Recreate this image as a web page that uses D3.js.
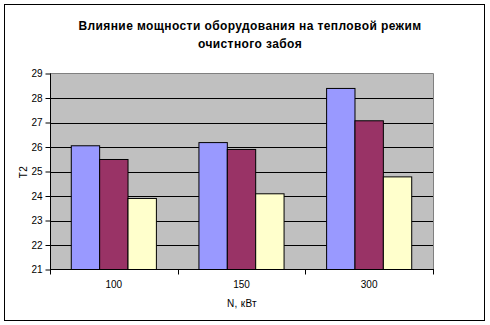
<!DOCTYPE html>
<html>
<head>
<meta charset="utf-8">
<script src="https://cdn.jsdelivr.net/npm/d3@7"></script>
<style>
body { margin: 0; background: #fff; }
svg text { font-family: "Liberation Sans", Arial, sans-serif; fill: #000; }
</style>
</head>
<body>
<div id="chart"></div>
<script>
var categories = ["100", "150", "300"];
var series = ["s1", "s2", "s3"];
var values = [
    [26.05, 25.49, 23.9],
    [26.18, 25.9, 24.09],
    [28.39, 27.07, 24.78]
];
var yTicks = [21, 22, 23, 24, 25, 26, 27, 28, 29];
var colors = ["#9999FF", "#993366", "#FFFFCC"];
var titleLines = ["Влияние мощности оборудования на тепловой режим", "очистного забоя"];

var width = 490, height = 325;
var plot = {left: 50, right: 433, top: 73.5, bottom: 269.5};

var svg = d3.select("#chart").append("svg")
    .attr("width", width)
    .attr("height", height);

// outer border
svg.append("rect")
    .attr("x", 4.5).attr("y", 4.5)
    .attr("width", 480).attr("height", 316)
    .attr("fill", "#fff")
    .attr("stroke", "#000");

var x0 = d3.scaleBand()
    .domain(categories)
    .range([plot.left, plot.right]);

var bw = x0.bandwidth() / 4.5;
var x1 = d3.scaleBand()
    .domain(series)
    .range([0, bw * 3]);

var y = d3.scaleLinear()
    .domain([21, 29])
    .range([plot.bottom, plot.top]);

// plot background
svg.append("rect")
    .attr("x", plot.left).attr("y", plot.top)
    .attr("width", plot.right - plot.left)
    .attr("height", plot.bottom - plot.top)
    .attr("fill", "#C0C0C0");

// border on top/right
svg.append("path")
    .attr("d", "M" + plot.left + "," + (plot.top) + "H" + (plot.right + 0.5) + "V" + plot.bottom)
    .attr("fill", "none")
    .attr("stroke", "#808080");

// gridlines
svg.append("g").selectAll("line")
    .data(yTicks.slice(1, -1))
    .enter().append("line")
    .attr("x1", plot.left).attr("x2", plot.right)
    .attr("y1", function(d) { return Math.round(y(d)) + 0.5; })
    .attr("y2", function(d) { return Math.round(y(d)) + 0.5; })
    .attr("stroke", "#000");

// bars
var groups = svg.append("g").selectAll("g")
    .data(values)
    .enter().append("g")
    .attr("transform", function(d, i) { return "translate(" + (x0(categories[i]) + bw * 0.75) + ",0)"; });

groups.selectAll("rect")
    .data(function(d) { return d; })
    .enter().append("rect")
    .attr("x", function(d, i) { return x1(series[i]); })
    .attr("y", function(d) { return y(d); })
    .attr("width", x1.bandwidth())
    .attr("height", function(d) { return plot.bottom - y(d); })
    .attr("fill", function(d, i) { return colors[i]; })
    .attr("stroke", "#000")
    .attr("stroke-width", 1);

// y axis
var yAxis = d3.axisLeft(y)
    .tickValues(yTicks)
    .tickSize(5)
    .tickPadding(3)
    .tickFormat(d3.format("d"));

var gy = svg.append("g")
    .attr("transform", "translate(" + (plot.left + 0.5) + ",0)")
    .call(yAxis);
gy.select(".domain").remove();
gy.selectAll("text").style("font-size", "10px");
gy.append("line")
    .attr("x1", 0).attr("x2", 0)
    .attr("y1", plot.top).attr("y2", plot.bottom)
    .attr("stroke", "#000");

// x axis
var gx = svg.append("g")
    .attr("transform", "translate(0," + plot.bottom + ")");
gx.append("line")
    .attr("x1", plot.left).attr("x2", plot.right + 1)
    .attr("stroke", "#000");
gx.selectAll("line.tick")
    .data(categories.concat([null]))
    .enter().append("line")
    .attr("class", "tick")
    .attr("x1", function(d, i) { return Math.round(plot.left + i * x0.step()) + 0.5; })
    .attr("x2", function(d, i) { return Math.round(plot.left + i * x0.step()) + 0.5; })
    .attr("y1", 0).attr("y2", 5)
    .attr("stroke", "#000");
gx.selectAll("text")
    .data(categories)
    .enter().append("text")
    .attr("x", function(d) { return x0(d) + x0.bandwidth() / 2; })
    .attr("y", 18.5)
    .attr("text-anchor", "middle")
    .style("font-size", "10px")
    .text(function(d) { return d; });

// axis titles
svg.append("text")
    .attr("x", 242).attr("y", 307)
    .attr("text-anchor", "middle")
    .style("font-size", "10px")
    .style("letter-spacing", "0.3px")
    .text("N, кВт");

svg.append("text")
    .attr("transform", "translate(26.5,172) rotate(-90)")
    .attr("text-anchor", "middle")
    .style("font-size", "10px")
    .style("letter-spacing", "0.5px")
    .text("T2");

// chart title
svg.append("g").selectAll("text")
    .data(titleLines)
    .enter().append("text")
    .attr("x", 250)
    .attr("y", function(d, i) { return 29.5 + i * 18.5; })
    .attr("text-anchor", "middle")
    .style("font-size", "12px")
    .style("font-weight", "bold")
    .style("letter-spacing", "0.4px")
    .text(function(d) { return d; });
</script>
</body>
</html>
